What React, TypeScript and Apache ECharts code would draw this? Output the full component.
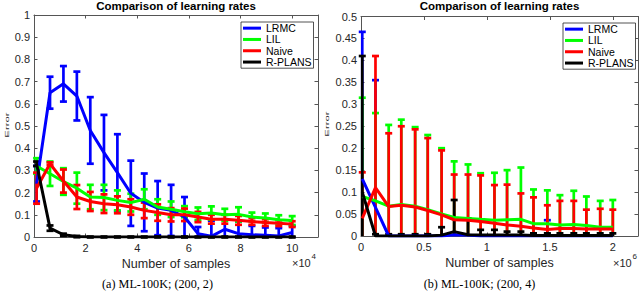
import React, { useEffect, useRef } from 'react';
import * as echarts from 'echarts';

const NAMES = ['LRMC', 'LIL', 'Naive', 'R-PLANS'];
const COLORS = ['#0000ff', '#00ff00', '#ff0000', '#000000'];

// Panel (a): x in units of 1e4 samples
const X_A = [0.1, 0.62, 1.14, 1.66, 2.18, 2.71, 3.23, 3.75, 4.27, 4.79, 5.31, 5.83, 6.35, 6.87, 7.39, 7.92, 8.44, 8.96, 9.48, 10];
const LRMC_A = [0.24, 0.65, 0.69, 0.635, 0.48, 0.38, 0.29, 0.197, 0.156, 0.13, 0.12, 0.09, 0.015, 0.003, 0.035, 0.015, 0.01, 0.008, 0.005, 0.02];
const LRMC_A_ERR = [0.08, 0.072, 0.08, 0.11, 0.15, 0.17, 0.173, 0.147, 0.13, 0.122, 0.115, 0.09, 0.03, 0.07, 0.045, 0.055, 0.04, 0.035, 0.035, 0.03];
const LIL_A = [0.32, 0.285, 0.25, 0.22, 0.18, 0.178, 0.165, 0.155, 0.17, 0.135, 0.125, 0.114, 0.105, 0.108, 0.1, 0.102, 0.09, 0.086, 0.078, 0.074];
const LIL_A_ERR = [0.035, 0.055, 0.06, 0.07, 0.055, 0.057, 0.045, 0.04, 0.045, 0.035, 0.035, 0.025, 0.028, 0.03, 0.027, 0.032, 0.02, 0.02, 0.02, 0.02];
const NAIVE_A = [0.22, 0.33, 0.252, 0.18, 0.16, 0.15, 0.145, 0.135, 0.12, 0.11, 0.1, 0.1, 0.09, 0.08, 0.08, 0.075, 0.07, 0.065, 0.062, 0.058];
const NAIVE_A_ERR = [0.07, 0.006, 0.052, 0.054, 0.043, 0.042, 0.038, 0.035, 0.035, 0.037, 0.03, 0.028, 0.023, 0.02, 0.02, 0.02, 0.015, 0.015, 0.013, 0.013];
const RPLANS_A = [0.33, 0.04, 0.01, 0.002, 0, 0, 0, 0, 0, 0, 0, 0, 0, 0, 0, 0, 0, 0, 0, 0];
const RPLANS_A_ERR = [0.01, 0.012, 0.005, 0.003, 0.002, 0.002, 0.002, 0.002, 0.002, 0.002, 0.002, 0.002, 0.002, 0.002, 0.002, 0.002, 0.002, 0.002, 0.002, 0.002];

// Panel (b): x in units of 1e6 samples
const X_B = [0.01, 0.115, 0.22, 0.32, 0.43, 0.53, 0.64, 0.74, 0.85, 0.95, 1.06, 1.16, 1.27, 1.37, 1.48, 1.58, 1.69, 1.79, 1.9, 2.0];
const LRMC_B = [0.13, 0.065, 0, 0, 0, 0, 0, 0.003, 0.002, 0, 0, 0, 0, 0, 0, 0, 0, 0, 0, 0];
const LRMC_B_ERR = [0.335, 0.29, 0, 0, 0, 0, 0, 0, 0, 0, 0, 0, 0, 0, 0.036, 0, 0, 0, 0, 0];
const LIL_B = [0.09, 0.08, 0.068, 0.072, 0.068, 0.06, 0.05, 0.042, 0.04, 0.038, 0.036, 0.037, 0.038, 0.028, 0.028, 0.025, 0.026, 0.024, 0.02, 0.02];
const LIL_B_ERR = [0.225, 0.2, 0.185, 0.193, 0.18, 0.17, 0.15, 0.128, 0.123, 0.105, 0.108, 0.113, 0.118, 0.078, 0.076, 0.068, 0.077, 0.066, 0.06, 0.062];
const NAIVE_B = [0.04, 0.11, 0.067, 0.07, 0.066, 0.058, 0.048, 0.037, 0.036, 0.033, 0.029, 0.025, 0.022, 0.018, 0.015, 0.017, 0.017, 0.016, 0.016, 0.016];
const NAIVE_B_ERR = [0.105, 0.3, 0.167, 0.18, 0.177, 0.165, 0.147, 0.103, 0.104, 0.105, 0.087, 0.092, 0.075, 0.07, 0.055, 0.063, 0.063, 0.044, 0.046, 0.044];
const RPLANS_B = [0.1, 0, 0, 0, 0, 0, 0.002, 0.01, 0.003, 0.002, 0.002, 0.002, 0.002, 0.001, 0.001, 0.001, 0.001, 0.001, 0.001, 0.001];
const RPLANS_B_ERR = [0.31, 0.004, 0.004, 0.004, 0.004, 0.004, 0.018, 0.072, 0.037, 0.012, 0.012, 0.008, 0.008, 0.005, 0.005, 0.005, 0.005, 0.005, 0.005, 0.005];

const X_TICKS_A = { min: 0, max: 11, interval: 2 };
const Y_TICKS_A = { min: 0, max: 1, interval: 0.1 };
const X_TICKS_B = { min: 0, max: 2.2, interval: 0.5 };
const Y_TICKS_B = { min: 0, max: 0.5, interval: 0.05 };

const TITLE = 'Comparison of learning rates';
const X_NAME = 'Number of samples';
const Y_NAME = 'Error';
const CAPTION_A = '(a) ML-100K; (200, 2)';
const CAPTION_B = '(b) ML-100K; (200, 4)';

const FONT = '"Liberation Sans", Arial, Helvetica, sans-serif';
const SERIF = '"Liberation Serif", "Times New Roman", serif';
const AX = '#555555';
const TXT = '#262626';

const renderErr = (params: any, api: any) => {
  const x = api.value(0);
  const y = api.value(1);
  const e = api.value(2);
  if (!(e > 0)) return null;
  const cs = params.coordSys;
  const top = cs.y;
  const bot = cs.y + cs.height;
  const pHi = api.coord([x, y + e]);
  const pLo = api.coord([x, y - e]);
  const hiY = Math.max(top, pHi[1]);
  const loY = Math.min(bot, pLo[1]);
  const color = api.visual('color');
  const style = { stroke: color, lineWidth: 2.7 };
  const cw = 3.5;
  const children: any[] = [
    { type: 'line', shape: { x1: pHi[0], y1: hiY, x2: pHi[0], y2: loY }, style },
  ];
  if (pHi[1] >= top - 0.5) children.push({ type: 'line', shape: { x1: pHi[0] - cw, y1: pHi[1], x2: pHi[0] + cw, y2: pHi[1] }, style });
  if (pLo[1] <= bot + 0.5) children.push({ type: 'line', shape: { x1: pLo[0] - cw, y1: pLo[1], x2: pLo[0] + cw, y2: pLo[1] }, style });
  return { type: 'group', children };
};

function makeSeries(panel: number, xs: number[], vals: number[][], errs: number[][]) {
  const out: any[] = [];
  vals.forEach((v, si) => {
    const color = COLORS[si];
    out.push({
      type: 'custom',
      name: NAMES[si] + ' error',
      xAxisIndex: panel * 2,
      yAxisIndex: panel * 2,
      renderItem: renderErr,
      itemStyle: { color },
      encode: { x: 0, y: 1 },
      data: xs.map((x, i) => [x, v[i], errs[si][i]]),
      silent: true,
      z: 2,
    });
    out.push({
      type: 'line',
      name: NAMES[si],
      xAxisIndex: panel * 2,
      yAxisIndex: panel * 2,
      data: xs.map((x, i) => [x, v[i]]),
      showSymbol: false,
      symbol: 'none',
      color,
      itemStyle: { color },
      lineStyle: { color, width: 3 },
      silent: true,
      z: 2,
    });
  });
  return out;
}

const isTick = (v: number, interval: number) => Math.abs(v / interval - Math.round(v / interval)) < 1e-6;

function axisPair(kind: 'x' | 'y', grid: number, t: { min: number; max: number; interval: number }, named: boolean) {
  const base = {
    type: 'value',
    gridIndex: grid,
    min: t.min,
    max: t.max,
    interval: t.interval,
    splitLine: { show: false },
    axisLine: { show: true, onZero: false, lineStyle: { color: AX, width: 1 } },
    axisTick: { show: true, inside: true, length: 3.5, lineStyle: { color: AX, width: 1 } },
  };
  const main: any = {
    ...base,
    position: kind === 'x' ? 'bottom' : 'left',
    axisLabel: {
      show: true,
      color: TXT,
      fontSize: 11,
      fontFamily: FONT,
      margin: kind === 'x' ? 5 : 4,
      showMaxLabel: kind === 'y',
      formatter: (v: number) => (isTick(v, t.interval) ? String(+v.toFixed(4)) : ''),
    },
  };
  if (kind === 'x' && named) {
    main.name = X_NAME;
    main.nameLocation = 'middle';
    main.nameGap = 7;
    main.nameTextStyle = { fontSize: 12.5, color: TXT, fontFamily: FONT };
  }
  const second: any = {
    ...base,
    position: kind === 'x' ? 'top' : 'right',
    axisLabel: { show: false },
  };
  return [main, second];
}

export default function App() {
  const ref = useRef<HTMLDivElement>(null);
  useEffect(() => {
    if (!ref.current) return;
    const chart = echarts.init(ref.current, undefined, { renderer: 'svg' });
    const legendCommon = {
      orient: 'vertical',
      itemWidth: 18,
      itemHeight: 3,
      itemGap: 0,
      icon: 'rect',
      padding: [0.5, 2, 0.5, 2],
      borderColor: '#262626',
      borderWidth: 0.8,
      backgroundColor: '#ffffff',
      selectedMode: false,
      textStyle: { fontSize: 10.5, lineHeight: 11.3, color: '#000', fontFamily: FONT },
      data: NAMES,
    };
    const option: any = {
      animation: false,
      backgroundColor: '#ffffff',
      grid: [
        { left: 34, top: 15, width: 284, height: 222 },
        { left: 361, top: 16.5, width: 277, height: 219.5 },
      ],
      xAxis: [...axisPair('x', 0, X_TICKS_A, true), ...axisPair('x', 1, X_TICKS_B, true)],
      yAxis: [...axisPair('y', 0, Y_TICKS_A, false), ...axisPair('y', 1, Y_TICKS_B, false)],
      legend: [
        { ...legendCommon, left: 241, top: 22 },
        { ...legendCommon, left: 563, top: 23 },
      ],
      series: [
        ...makeSeries(0, X_A, [LRMC_A, LIL_A, NAIVE_A, RPLANS_A], [LRMC_A_ERR, LIL_A_ERR, NAIVE_A_ERR, RPLANS_A_ERR]),
        ...makeSeries(1, X_B, [LRMC_B, LIL_B, NAIVE_B, RPLANS_B], [LRMC_B_ERR, LIL_B_ERR, NAIVE_B_ERR, RPLANS_B_ERR]),
      ],
      graphic: [
        { type: 'text', x: 176, y: 6, style: { text: TITLE, textAlign: 'center', textVerticalAlign: 'middle', fontSize: 11.5, fontWeight: 'bold', fontFamily: FONT, fill: '#000' } },
        { type: 'text', x: 499.5, y: 6, style: { text: TITLE, textAlign: 'center', textVerticalAlign: 'middle', fontSize: 11.5, fontWeight: 'bold', fontFamily: FONT, fill: '#000' } },
        { type: 'text', x: 7, y: 125, rotation: Math.PI / 2, scaleX: 1.9, style: { text: Y_NAME, textAlign: 'center', textVerticalAlign: 'middle', fontSize: 6, fontFamily: FONT, fill: TXT } },
        { type: 'text', x: 327.5, y: 124, rotation: Math.PI / 2, scaleX: 1.9, style: { text: Y_NAME, textAlign: 'center', textVerticalAlign: 'middle', fontSize: 6, fontFamily: FONT, fill: TXT } },
        { type: 'text', x: 292, y: 262.5, style: { text: '×10', textAlign: 'left', textVerticalAlign: 'middle', fontSize: 11, fontFamily: FONT, fill: TXT } },
        { type: 'text', x: 311.5, y: 256, style: { text: '4', textAlign: 'left', textVerticalAlign: 'middle', fontSize: 8, fontFamily: FONT, fill: TXT } },
        { type: 'text', x: 613, y: 262.5, style: { text: '×10', textAlign: 'left', textVerticalAlign: 'middle', fontSize: 11, fontFamily: FONT, fill: TXT } },
        { type: 'text', x: 632.5, y: 256, style: { text: '6', textAlign: 'left', textVerticalAlign: 'middle', fontSize: 8, fontFamily: FONT, fill: TXT } },
        { type: 'text', x: 157.5, y: 284, style: { text: CAPTION_A, textAlign: 'center', textVerticalAlign: 'middle', fontSize: 12.2, fontFamily: SERIF, fill: '#000' } },
        { type: 'text', x: 479.5, y: 284, style: { text: CAPTION_B, textAlign: 'center', textVerticalAlign: 'middle', fontSize: 12.2, fontFamily: SERIF, fill: '#000' } },
      ],
    };
    chart.setOption(option);
    return () => chart.dispose();
  }, []);
  return (
    <div
      ref={ref}
      style={{ position: 'absolute', left: 0, top: 0, width: 640, height: 291, background: '#fff' }}
    />
  );
}
